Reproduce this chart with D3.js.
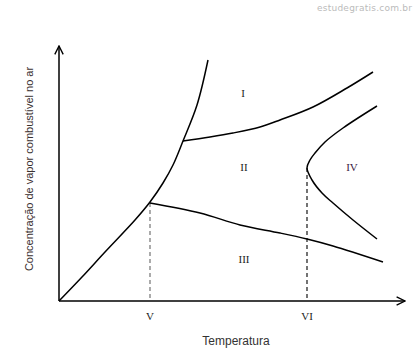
<!DOCTYPE html>
<html>
<head>
<meta charset="utf-8">
<script src="https://cdn.jsdelivr.net/npm/d3@7"></script>
<style>
  body { margin: 0; background: #fff; }
  svg { display: block; }
</style>
</head>
<body>
<div id="chart"></div>
<script>
  // boundary curves, [temperatura, concentração] in arbitrary units
  const leftCurve = [[0, 0], [23, 24], [46, 49], [76, 81], [91, 99], [104, 118], [114, 136], [124, 160], [138, 196], [149, 241]];
  const upperCurve = [[124, 160], [151, 164], [174, 168], [201, 174], [221, 181], [254, 194], [288, 213], [314, 229]];
  const lowerCurve = [[91, 98], [141, 88], [181, 76], [221, 68], [248, 62], [274, 55], [324, 39]];
  const curveIV = [[318, 195], [284, 173], [266, 159], [256, 148], [251, 141], [248, 133], [253, 121], [263, 108], [274, 98], [294, 81], [318, 62]];

  // dashed guide lines down to the axis
  const guides = [{ t: 91, c: 98, color: "#666" }, { t: 248, c: 133, color: "#000" }];

  // tick labels and region labels
  const tickLabels = [{ t: 91, label: "V" }, { t: 248, label: "VI" }];
  const regionLabels = [
    { t: 184, c: 204, label: "I" },
    { t: 185, c: 130, label: "II" },
    { t: 185, c: 38, label: "III" },
    { t: 293, c: 130, label: "IV" }
  ];

  const width = 415, height = 359;
  const margin = { top: 46, right: 10, bottom: 58, left: 59 };

  const svg = d3.select("#chart").append("svg")
    .attr("width", width)
    .attr("height", height);

  const x = d3.scaleLinear().domain([0, 346]).range([margin.left, width - margin.right]);
  const y = d3.scaleLinear().domain([0, 255]).range([height - margin.bottom, margin.top]);

  // arrow marker for the axes
  svg.append("defs").append("marker")
    .attr("id", "arrow")
    .attr("viewBox", "0 0 10 10")
    .attr("refX", 9).attr("refY", 5)
    .attr("markerWidth", 7).attr("markerHeight", 7)
    .attr("orient", "auto")
    .append("path")
    .attr("d", "M1,1 L9,5 L1,9")
    .attr("fill", "none")
    .attr("stroke", "#000")
    .attr("stroke-width", 1.3);

  // axes
  svg.append("line")
    .attr("x1", x(0)).attr("y1", y(0))
    .attr("x2", x(0)).attr("y2", y(255))
    .attr("stroke", "#000").attr("stroke-width", 1.5)
    .attr("marker-end", "url(#arrow)");

  svg.append("line")
    .attr("x1", x(0)).attr("y1", y(0))
    .attr("x2", x(346)).attr("y2", y(0))
    .attr("stroke", "#000").attr("stroke-width", 1.5)
    .attr("marker-end", "url(#arrow)");

  // dashed guides
  svg.selectAll(".guide")
    .data(guides)
    .enter()
    .append("line")
    .attr("class", "guide")
    .attr("x1", d => x(d.t)).attr("y1", d => y(d.c))
    .attr("x2", d => x(d.t)).attr("y2", y(0))
    .attr("stroke", d => d.color)
    .attr("stroke-width", 1.1)
    .attr("stroke-dasharray", "4,3");

  // curves
  const line = d3.line()
    .x(d => x(d[0]))
    .y(d => y(d[1]))
    .curve(d3.curveCatmullRom.alpha(0.5));

  svg.selectAll(".curve")
    .data([leftCurve, upperCurve, lowerCurve, curveIV])
    .enter()
    .append("path")
    .attr("class", "curve")
    .attr("fill", "none")
    .attr("stroke", "#000")
    .attr("stroke-width", 1.5)
    .attr("d", line);

  // region labels
  svg.selectAll(".region")
    .data(regionLabels)
    .enter()
    .append("text")
    .attr("class", "region")
    .attr("x", d => x(d.t))
    .attr("y", d => y(d.c))
    .attr("text-anchor", "middle")
    .attr("font-family", "Liberation Serif, serif")
    .attr("font-size", 11)
    .attr("fill", d => d.label === "IV" ? "#3a1a44" : "#222")
    .text(d => d.label);

  // tick labels
  svg.selectAll(".tick-label")
    .data(tickLabels)
    .enter()
    .append("text")
    .attr("class", "tick-label")
    .attr("x", d => x(d.t))
    .attr("y", y(0) + 19)
    .attr("text-anchor", "middle")
    .attr("font-family", "Liberation Serif, serif")
    .attr("font-size", 11)
    .attr("fill", "#222")
    .text(d => d.label);

  // axis titles
  svg.append("text")
    .attr("x", 236)
    .attr("y", 345)
    .attr("text-anchor", "middle")
    .attr("font-family", "Liberation Sans, Arial, sans-serif")
    .attr("font-size", 12)
    .attr("fill", "#333")
    .text("Temperatura");

  svg.append("text")
    .attr("transform", "translate(33,169) rotate(-90)")
    .attr("text-anchor", "middle")
    .attr("font-family", "Liberation Sans, Arial, sans-serif")
    .attr("font-size", 11)
    .attr("fill", "#3a3030")
    .text("Concentração de vapor combustível no ar");

  // watermark
  svg.append("text")
    .attr("x", 412)
    .attr("y", 11)
    .attr("text-anchor", "end")
    .attr("font-family", "DejaVu Sans, sans-serif")
    .attr("font-size", 9)
    .attr("fill", "#bbb")
    .attr("textLength", 95)
    .text("estudegratis.com.br");
</script>
</body>
</html>
